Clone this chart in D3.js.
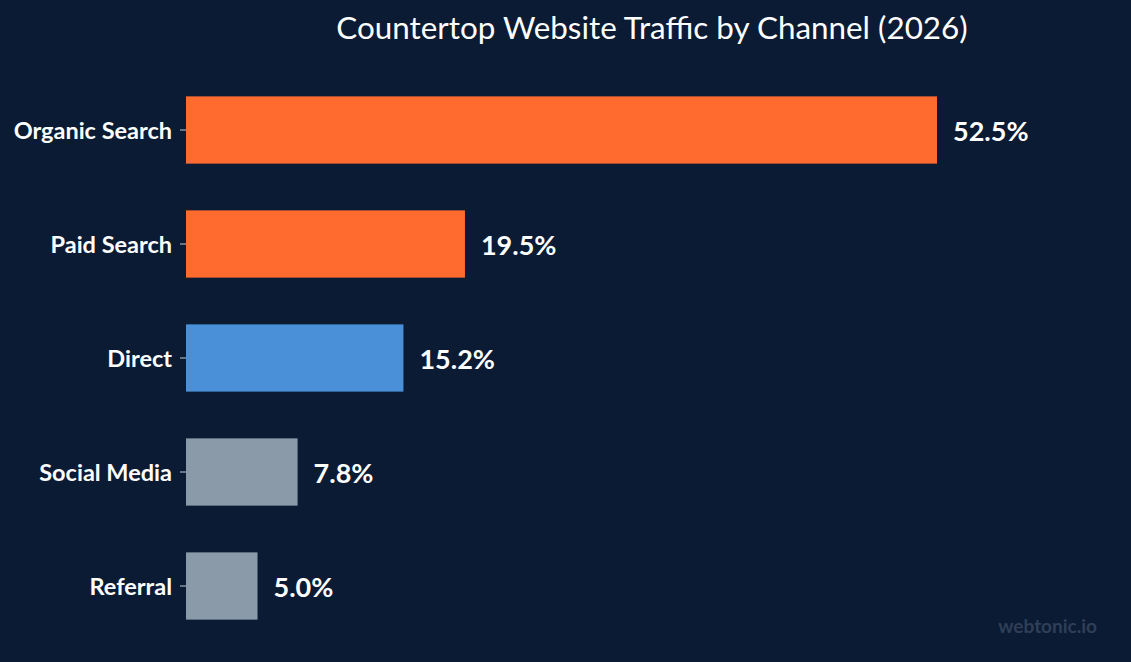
<!DOCTYPE html>
<html>
<head>
<meta charset="utf-8">
<script src="https://cdn.jsdelivr.net/npm/d3@7"></script>
<style>
  html, body { margin: 0; padding: 0; background: #0b1b34; }
  svg { display: block; font-family: Lato, "Open Sans", sans-serif; }
  .y-axis text { fill: #ffffff; font-size: 23.5px; font-weight: 700; }
  .y-axis line { stroke: #c8ccd2; }
</style>
</head>
<body>
<div id="chart"></div>
<script>
const channels = ['Organic Search', 'Paid Search', 'Direct', 'Social Media', 'Referral'];
const shares = [52.5, 19.5, 15.2, 7.8, 5.0];
const groups = ['search', 'search', 'direct', 'other', 'other'];

const data = channels.map((c, i) => ({channel: c, value: shares[i], group: groups[i]}));

const width = 1131, height = 662;
const margin = {top: 73, right: 194, bottom: 20, left: 186};

const svg = d3.select('#chart').append('svg')
    .attr('width', width)
    .attr('height', height);

svg.append('rect')
    .attr('width', width)
    .attr('height', height)
    .attr('fill', '#0b1b34');

const xScale = d3.scaleLinear()
    .domain([0, d3.max(shares)])
    .range([margin.left, width - margin.right]);

const yScale = d3.scaleBand()
    .domain(channels)
    .range([margin.top, margin.top + 570])
    .paddingInner(0.41)
    .paddingOuter(0.205);

const colorScale = d3.scaleOrdinal()
    .domain(['search', 'direct', 'other'])
    .range(['#ff6b2e', '#4a90d9', '#8a9aa8']);

// bars
svg.append('g').selectAll('rect')
    .data(data)
  .join('rect')
    .attr('x', xScale(0))
    .attr('y', d => yScale(d.channel))
    .attr('width', d => xScale(d.value) - xScale(0))
    .attr('height', yScale.bandwidth())
    .attr('fill', d => colorScale(d.group));

// value labels
svg.append('g').selectAll('text')
    .data(data)
  .join('text')
    .attr('x', d => xScale(d.value) + 16)
    .attr('y', d => yScale(d.channel) + yScale.bandwidth() / 2 + 1)
    .attr('dy', '0.36em')
    .attr('fill', '#ffffff')
    .attr('font-size', 27)
    .attr('font-weight', 700)
    .text(d => d.value.toFixed(1) + '%');

// y axis
const yAxis = d3.axisLeft(yScale)
    .tickSize(6)
    .tickPadding(8);

svg.append('g')
    .attr('class', 'axis y-axis')
    .attr('transform', `translate(${margin.left},0)`)
    .call(yAxis)
    .attr('font-family', null)
    .attr('font-size', null)
    .call(g => g.select('.domain').remove())
    .call(g => g.selectAll('text').attr('dy', '0.4em'));

// title
svg.append('text')
    .attr('x', 652)
    .attr('y', 39)
    .attr('text-anchor', 'middle')
    .attr('fill', '#ffffff')
    .attr('font-size', 31.4)
    .text('Countertop Website Traffic by Channel (2026)');

// watermark
svg.append('text')
    .attr('x', 1097)
    .attr('y', 633)
    .attr('text-anchor', 'end')
    .attr('fill', '#2f3f57')
    .attr('font-size', 19)
    .attr('font-weight', 700)
    .text('webtonic.io');
</script>
</body>
</html>
